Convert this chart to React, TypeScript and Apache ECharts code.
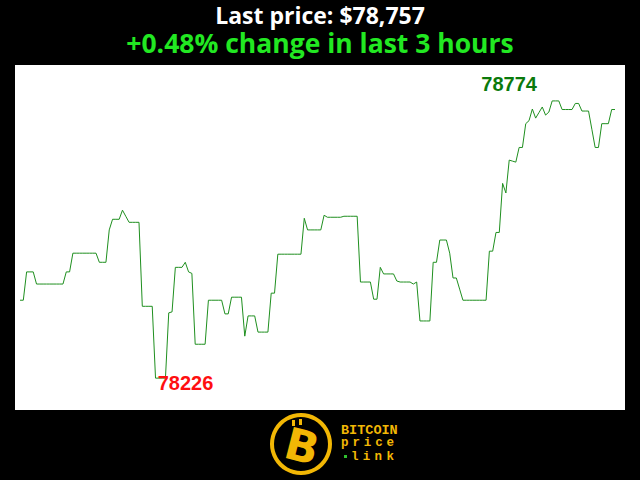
import React, { useEffect, useRef } from "react";
import * as echarts from "echarts";

// Bitcoin price, one reading per minute over the last 3 hours (USD)
const prices: number[] = [
  78380, 78380, 78436, 78436, 78436, 78412, 78412, 78412, 78412, 78412,
  78412, 78412, 78412, 78412, 78436, 78436, 78473, 78473, 78473, 78473,
  78473, 78473, 78473, 78473, 78455, 78455, 78455, 78519, 78540, 78540,
  78540, 78558, 78546, 78534, 78534, 78534, 78534, 78368, 78368, 78368,
  78368, 78226, 78226, 78226, 78226, 78355, 78357, 78445, 78445, 78445,
  78455, 78436, 78433, 78293, 78293, 78293, 78293, 78380, 78380, 78380,
  78380, 78380, 78353, 78353, 78386, 78386, 78386, 78386, 78309, 78349,
  78349, 78349, 78317, 78317, 78317, 78317, 78394, 78394, 78471, 78471,
  78471, 78471, 78471, 78471, 78471, 78471, 78542, 78519, 78519, 78519,
  78519, 78519, 78548, 78544, 78544, 78544, 78544, 78544, 78546, 78546,
  78546, 78546, 78546, 78416, 78416, 78416, 78416, 78382, 78382, 78445,
  78432, 78432, 78432, 78432, 78418, 78416, 78416, 78416, 78416, 78412,
  78416, 78339, 78339, 78339, 78339, 78455, 78455, 78499, 78499, 78499,
  78473, 78424, 78424, 78402, 78380, 78380, 78380, 78380, 78380, 78380,
  78380, 78380, 78477, 78477, 78514, 78514, 78611, 78592, 78657, 78655,
  78653, 78682, 78682, 78729, 78735, 78758, 78740, 78751, 78762, 78746,
  78752, 78774, 78774, 78774, 78757, 78757, 78757, 78757, 78769, 78769,
  78754, 78754, 78754, 78718, 78682, 78682, 78729, 78729, 78729, 78757,
  78757,
];
const minutes: number[] = prices.map((_, i) => i);
const hoursSpan = 3;

const brandWords = ["BITCOIN", "price", "link"];

export default function App() {
  const ref = useRef<HTMLDivElement>(null);
  useEffect(() => {
    if (!ref.current) return;
    const chart = echarts.init(ref.current, null, { renderer: "svg" });
    const first = prices[0];
    const last = prices[prices.length - 1];
    const change = ((last - first) / first) * 100;
    const changeText = (change >= 0 ? "+" : "") + change.toFixed(2) + "% change in last " + hoursSpan + " hours";
    const lastText = "Last price: $" + last.toLocaleString("en-US");

    const gold = "#f2b705";
    const mono = "'Liberation Mono', 'DejaVu Sans Mono', monospace";
    const graphics: any[] = [
      {
        type: "text",
        x: 320,
        y: 14.5,
        style: { text: lastText, fill: "#ffffff", font: "bold 23px 'Open Sans'", lineHeight: 22, align: "center", verticalAlign: "middle" },
      },
      {
        type: "text",
        x: 320,
        y: 42.5,
        style: { text: changeText, fill: "#22e822", font: "bold 26.5px 'Open Sans'", lineHeight: 26, align: "center", verticalAlign: "middle" },
      },
      {
        type: "ring",
        shape: { cx: 301, cy: 444, r: 31, r0: 27 },
        style: { fill: gold },
      },
      {
        type: "rect",
        shape: { x: 292, y: 420, width: 3, height: 6 },
        style: { fill: gold },
      },
      {
        type: "rect",
        shape: { x: 299, y: 419, width: 3, height: 6 },
        style: { fill: gold },
      },
      {
        type: "text",
        x: 302,
        y: 446,
        rotation: -0.25,
        style: { text: "B", fill: gold, font: "900 44px 'DejaVu Sans'", align: "center", verticalAlign: "middle" },
      },
      {
        type: "text",
        x: 341,
        y: 430,
        style: { text: brandWords[0], fill: gold, font: "bold 13.5px " + mono, align: "left", verticalAlign: "middle" },
      },
      {
        type: "rect",
        shape: { x: 344, y: 455, width: 3, height: 3 },
        style: { fill: "#2fbf2f" },
      },
    ];
    brandWords[1].split("").forEach((ch, k) => {
      graphics.push({
        type: "text",
        x: 341 + k * 11.4,
        y: 443,
        style: { text: ch, fill: gold, font: "bold 12.5px " + mono, align: "left", verticalAlign: "middle" },
      });
    });
    brandWords[2].split("").forEach((ch, k) => {
      graphics.push({
        type: "text",
        x: 351 + k * 11.8,
        y: 456.5,
        style: { text: ch, fill: gold, font: "bold 12.5px " + mono, align: "left", verticalAlign: "middle" },
      });
    });

    chart.setOption({
      animation: false,
      backgroundColor: "#000000",
      grid: {
        left: 15,
        right: 15,
        top: 65,
        bottom: 70,
        show: true,
        backgroundColor: "#ffffff",
        borderWidth: 0,
      },
      xAxis: {
        type: "value",
        min: -1.513,
        max: 183.03,
        show: false,
      },
      yAxis: {
        type: "value",
        min: 78163,
        max: 78845,
        show: false,
      },
      series: [
        {
          type: "line",
          data: minutes.map((m, i) => [m, prices[i]]),
          showSymbol: false,
          lineStyle: { color: "#1f8f1f", width: 1 },
          markPoint: {
            symbol: "circle",
            symbolSize: 1,
            itemStyle: { color: "rgba(0,0,0,0)" },
            data: [
              {
                type: "max",
                label: {
                  show: true,
                  position: "inside",
                  offset: [-43, -17],
                  color: "#0b7a0b",
                  fontFamily: "'Liberation Sans', Arial, sans-serif",
                  fontWeight: "bold",
                  fontSize: 20,
                  formatter: "{c}",
                },
              },
              {
                type: "min",
                label: {
                  show: true,
                  position: "inside",
                  offset: [30, 5],
                  color: "#ff1010",
                  fontFamily: "'Liberation Sans', Arial, sans-serif",
                  fontWeight: "bold",
                  fontSize: 20,
                  formatter: "{c}",
                },
              },
            ],
          },
        },
      ],
      graphic: graphics,
    });
    return () => chart.dispose();
  }, []);
  return (
    <div
      ref={ref}
      style={{ position: "fixed", left: 0, top: 0, width: 640, height: 480 }}
    />
  );
}
